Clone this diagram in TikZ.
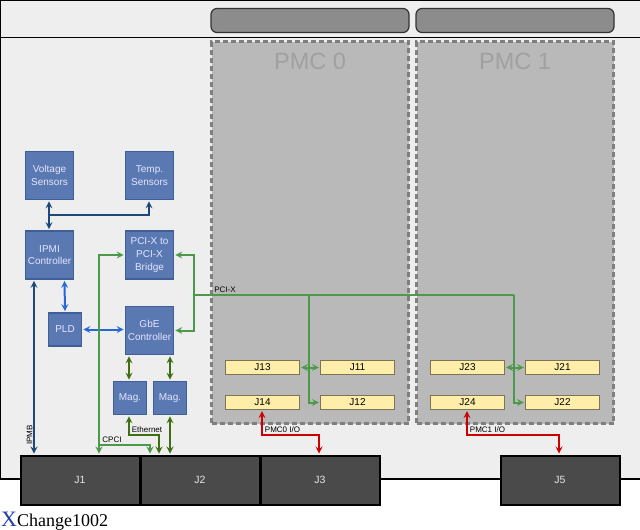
\documentclass[tikz,border=0pt]{standalone}
\usepackage{fontspec}
\setmainfont{Liberation Sans}
\newfontfamily\serifname{Liberation Serif}
\usepackage{xcolor}
\usetikzlibrary{arrows, positioning}
\definecolor{boardgray}{HTML}{EEEEEE}
\definecolor{blockblue}{HTML}{5A78B2}
\definecolor{blockedge}{HTML}{3F5F96}
\definecolor{connfill}{HTML}{4A4A4A}
\definecolor{headerfill}{HTML}{FFEEAA}
\definecolor{headeredge}{HTML}{7D7355}
\definecolor{pmcfill}{HTML}{B9B9B9}
\definecolor{pmcedge}{HTML}{7F7F7F}
\definecolor{pmctext}{HTML}{A0A0A0}
\definecolor{bezelfill}{HTML}{8C8C8C}
\definecolor{pcigreen}{HTML}{4A9A4A}
\definecolor{ethgreen}{HTML}{3F6F10}
\definecolor{navyline}{HTML}{1B4A7A}
\definecolor{pldblue}{HTML}{2468D8}
\definecolor{iored}{HTML}{CC0000}
\definecolor{logoblue}{HTML}{1F3FA8}
\tikzstyle{block} = [rectangle, minimum width=48pt, minimum height=48pt, inner sep=0pt, align=center, draw=blockedge, line width=1.8pt, fill=blockblue, text=white!90!blue, font=\fontsize{10}{12.7}\selectfont]
\tikzstyle{smallblock} = [block, minimum width=33pt, minimum height=33pt]
\tikzstyle{connector} = [rectangle, minimum width=119pt, minimum height=49pt, inner sep=0pt, draw=black, line width=2pt, fill=connfill, text=white!90!black, font=\fontsize{10.5}{12}\selectfont]
\tikzstyle{header} = [rectangle, minimum width=74pt, minimum height=14pt, inner sep=0pt, draw=headeredge, line width=1.2pt, fill=headerfill, font=\fontsize{10}{12}\selectfont]
\tikzstyle{pmcsite} = [rectangle, minimum width=197pt, minimum height=382pt, inner sep=0pt, draw=pmcedge, dash pattern=on 5pt off 3pt, line width=2.8pt, fill=pmcfill]
\tikzstyle{pmctitle} = [inner sep=0pt, text=pmctext, font=\fontsize{23.5}{26}\selectfont]
\tikzstyle{bezel} = [rectangle, rounded corners=6pt, minimum width=198pt, minimum height=24pt, inner sep=0pt, draw=black!80, line width=1.2pt, fill=bezelfill]
\tikzstyle{wirelabel} = [inner sep=0pt, font=\fontsize{8}{9}\selectfont]
\tikzstyle{wire} = [line width=2pt, >=stealth, shorten <=1pt, shorten >=1pt]
\tikzstyle{pciwire} = [wire, draw=pcigreen]
\tikzstyle{ethwire} = [wire, draw=ethgreen]
\tikzstyle{navywire} = [wire, draw=navyline]
\tikzstyle{pldwire} = [wire, draw=pldblue]
\tikzstyle{iowire} = [wire, draw=iored]
\begin{document}
\begin{tikzpicture}[x=1pt, y=1pt, node distance=100pt]
\useasboundingbox (0,0) rectangle (640,-530);

% board outline
\fill [boardgray] (0,0) rectangle (640,-479);
\draw [line width=1.3pt] (0,-479) -- (0,-0.5) -- (640,-0.5);
\draw [line width=1.3pt] (0,-37.5) -- (640,-37.5);
\draw [line width=1.3pt] (0,-479) -- (20,-479);
\draw [line width=1.3pt] (380,-479) -- (500,-479);
\draw [line width=1.3pt] (620,-479) -- (640,-479);

% pmc sites
\node (pmc0) [pmcsite] at (310,-232.5) {};
\node (pmc1) [pmcsite, right of=pmc0, xshift=105pt] {};
\node (bezel0) [bezel] at (310,-20.5) {};
\node (bezel1) [bezel, right of=bezel0, xshift=105pt] {};
\node (title0) [pmctitle, below of=bezel0, yshift=59pt] {PMC 0};
\node (title1) [pmctitle, below of=bezel1, yshift=59pt] {PMC 1};

% blocks
\node (volt) [block] at (49.5,-175.5) {Voltage\\Sensors};
\node (temp) [block, right of=volt] {Temp.\\Sensors};
\node (ipmi) [block, below of=volt, yshift=20.5pt] {IPMI\\Controller};
\node (bridge) [block, below of=temp, yshift=20.5pt] {PCI-X to\\PCI-X\\Bridge};
\node (gbe) [block, below of=bridge, yshift=24.5pt] {GbE\\Controller};
\node (pld) [smallblock] at (65,-329.5) {PLD};
\node (mag0) [smallblock] at (130,-398) {Mag.};
\node (mag1) [smallblock, right of=mag0, xshift=-60pt] {Mag.};

% connectors
\node (j1) [connector] at (80,-480) {J1};
\node (j2) [connector, right of=j1, xshift=20pt] {J2};
\node (j3) [connector, right of=j2, xshift=20pt] {J3};
\node (j5) [connector, right of=j3, xshift=140pt] {J5};

% pmc headers
\node (j13) [header] at (262.5,-367.5) {J13};
\node (j11) [header, right of=j13, xshift=-5pt] {J11};
\node (j14) [header, below of=j13, yshift=65pt] {J14};
\node (j12) [header, right of=j14, xshift=-5pt] {J12};
\node (j23) [header, right of=j13, xshift=105pt] {J23};
\node (j21) [header, right of=j23, xshift=-5pt] {J21};
\node (j24) [header, below of=j23, yshift=65pt] {J24};
\node (j22) [header, right of=j24, xshift=-5pt] {J22};

% junctions
\coordinate (pciright) at (194,-295);
\coordinate (pcibranch) at (309,-295);
\coordinate (tempjoin) at (49,-215);
\coordinate (cpcijoin) at (99,-445);
\coordinate (ethbend) at (129,-435);

% management
\draw [navywire, <->] ([xshift=-0.5pt]volt.south) -- ([xshift=-0.5pt]ipmi.north);
\draw [navywire, ->, shorten <=0pt] (tempjoin) -| ([xshift=-0.5pt]temp.south);
\draw [navywire, <->] ([xshift=-15.5pt]ipmi.south) -- ([xshift=-46pt]j1.north);
\draw [pldwire, <->] ([xshift=15pt]ipmi.south) -- (pld.north);
\draw [pldwire, <->] (pld.east) -- ([yshift=1pt]gbe.west);

% pci
\draw [pciwire, <->] (bridge.west) -| ([xshift=19pt]j1.north);
\draw [pciwire, ->, shorten <=0pt] (cpcijoin) -| ([xshift=-50pt]j2.north);
\draw [pciwire, ->, shorten <=0pt] (pciright) |- (bridge.east);
\draw [pciwire, ->, shorten <=0pt] (pciright) |- (gbe.east);
\draw [pciwire, shorten <=0pt, shorten >=0pt] (pciright) -- (514,-295) coordinate (pciend);
\draw [pciwire, ->, shorten <=0pt] (pcibranch) |- (j12.west);
\draw [pciwire, ->, shorten <=0pt] (pciend) |- (j22.west);
\draw [pciwire, <->] (j13) -- (j11);
\draw [pciwire, <->] (j23) -- (j21);

% ethernet
\draw [ethwire, <->] ([xshift=-1pt]mag0.north) -- ([xshift=-20.5pt]gbe.south);
\draw [ethwire, <->] (mag1.north) -- ([xshift=20.5pt]gbe.south);
\draw [ethwire, <->] ([xshift=-1pt]mag0.south) |- (ethbend) -| ([xshift=-41pt]j2.north);
\draw [ethwire, <->] (mag1.south) -- ([xshift=-30pt]j2.north);

% pmc i/o
\draw [iowire, <->] ([xshift=-0.5pt]j14.south) |- (262,-435) -| ([xshift=-1pt]j3.north);
\draw [iowire, <->] ([xshift=-0.5pt]j24.south) |- (467,-435) -| ([xshift=-1pt]j5.north);

% wire labels
\node (labelipmb) [wirelabel, rotate=90] at (29.5,-435) {IPMB};
\node (labelcpci) [wirelabel] at (112,-440) {CPCI};
\node (labeleth) [wirelabel] at (147,-430) {Ethernet};
\node (labelpci) [wirelabel] at (225,-290) {PCI-X};
\node (labelio0) [wirelabel] at (282.5,-430) {PMC0 I/O};
\node (labelio1) [wirelabel] at (487.5,-430) {PMC1 I/O};

% product name
\node (product) [anchor=base west, inner sep=0pt] at (1,-526) {\serifname\fontsize{22}{24}\selectfont\textcolor{logoblue}{X}\fontsize{18}{20}\selectfont Change1002};

\end{tikzpicture}
\end{document}
